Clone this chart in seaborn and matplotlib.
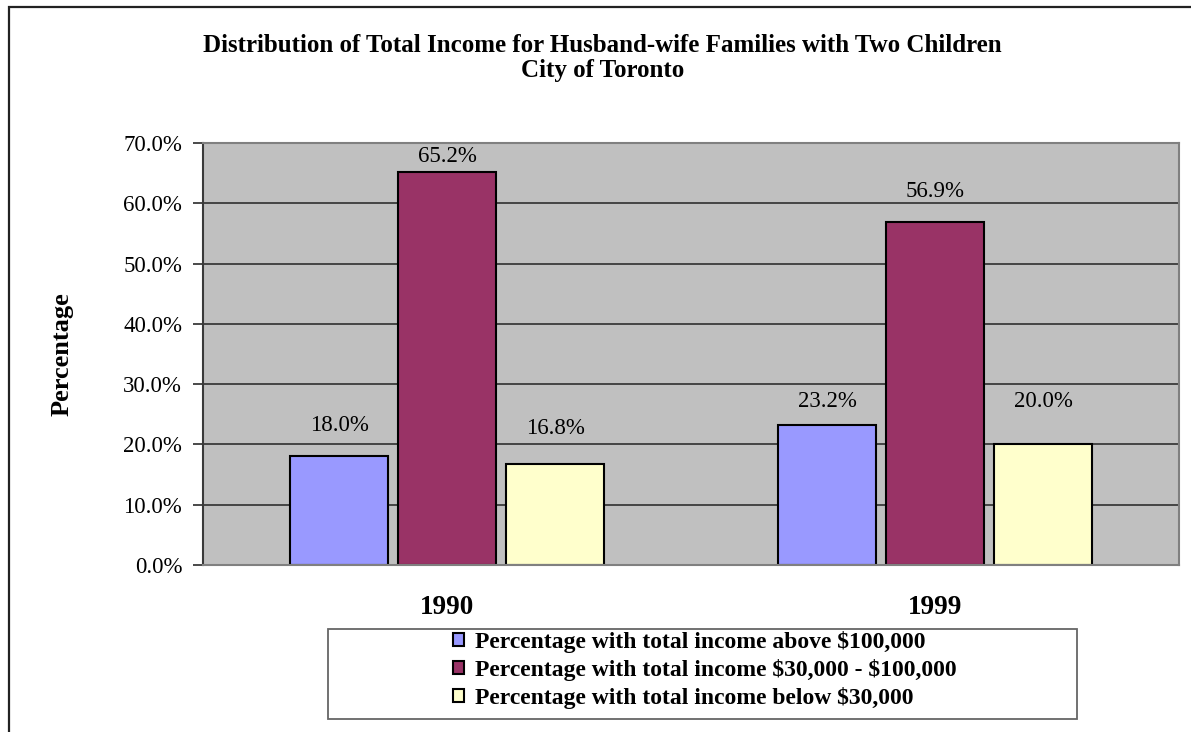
import pandas as pd
import matplotlib.pyplot as plt
from matplotlib.patches import Rectangle
import seaborn as sns

# ---- data ----
years = ["1990", "1999"]
groups = [
    "Percentage with total income above \\$100,000",
    "Percentage with total income \\$30,000 - \\$100,000",
    "Percentage with total income below \\$30,000",
]
above_100k = [18.0, 23.2]
mid_30k_100k = [65.2, 56.9]
below_30k = [16.8, 20.0]
y_ticks = [0, 10, 20, 30, 40, 50, 60, 70]

df = pd.DataFrame({
    "Year": years * 3,
    "Group": [g for g in groups for _ in years],
    "Value": above_100k + mid_30k_100k + below_30k,
})

colors = ["#9999FF", "#993366", "#FFFFCC"]
# label offsets above bar tops (pixels), as laid out in the original
label_offsets = [[31, 24], [15, 30], [35, 43]]

sns.set_style("white")
plt.rcParams["font.family"] = ["Liberation Serif", "DejaVu Serif"]
plt.rcParams["text.color"] = "black"
plt.rcParams["axes.labelcolor"] = "black"
plt.rcParams["xtick.color"] = "black"
plt.rcParams["ytick.color"] = "black"

fig = plt.figure(figsize=(11.91, 7.32), dpi=100)
ax = fig.add_axes([203 / 1191, 1 - 565 / 732, 976 / 1191, 422 / 732])
ax.set_facecolor("#C0C0C0")

sns.barplot(data=df, x="Year", y="Value", hue="Group", palette=colors,
            width=0.664, gap=0.093, edgecolor="black", linewidth=1.5,
            saturation=1, ax=ax, legend=True)

ax.set_xlim(-0.5, 1.5)
ax.set_ylim(0, 70)
ax.set_yticks(y_ticks)
ax.set_yticklabels([f"{t:.1f}%" for t in y_ticks], fontsize=16.5)
ax.yaxis.grid(True, color="#3a3a3a", linewidth=1.3)
ax.set_axisbelow(True)
ax.tick_params(axis="y", left=True, length=7, width=1.3, color="#3a3a3a", pad=8)
ax.tick_params(axis="x", bottom=False, pad=18)
for lbl in ax.get_xticklabels():
    lbl.set_fontweight("bold")
    lbl.set_fontsize(19.5)
for side, sp in ax.spines.items():
    sp.set_color("#808080")
    sp.set_linewidth(1.5)
ax.spines["left"].set_color("#3a3a3a")
ax.set_xlabel("")
ax.set_ylabel("Percentage", fontsize=19, fontweight="bold")
ax.yaxis.set_label_coords(-0.133, 0.5)

# value labels
for ci, cont in enumerate(ax.containers):
    for bi, bar in enumerate(cont):
        h = bar.get_height()
        ax.annotate(f"{h:.1f}%", (bar.get_x() + bar.get_width() / 2, h),
                    xytext=(0, label_offsets[ci][bi]), textcoords="offset pixels",
                    ha="center", va="center", fontsize=16.5, annotation_clip=False)

fig.text(0.506, 1 - 45 / 732,
         "Distribution of Total Income for Husband-wife Families with Two Children",
         ha="center", va="center", fontsize=18, fontweight="bold")
fig.text(0.506, 1 - 71 / 732, "City of Toronto",
         ha="center", va="center", fontsize=18, fontweight="bold")

# legend
handles, labels = ax.get_legend_handles_labels()
ax.get_legend().remove()
leg = fig.legend(handles, labels, loc="center", bbox_to_anchor=(705 / 1191, 1 - 670 / 732),
                 frameon=False, prop={"weight": "bold", "size": 17},
                 handlelength=0.45, handleheight=0.45, handletextpad=0.5,
                 labelspacing=0.26, borderpad=0)
fig.add_artist(Rectangle((328 / 1191, 1 - 719 / 732), 749 / 1191, 90 / 732,
                         transform=fig.transFigure, fill=False,
                         edgecolor="#666666", linewidth=1.3))

# outer chart border (runs off the right and bottom)
fig.add_artist(Rectangle((9 / 1191, -0.05), 1.2, 1 - 6.5 / 732 + 0.05,
                         transform=fig.transFigure, fill=False,
                         edgecolor="#222222", linewidth=1.6))

fig.savefig("out.png", dpi=100)
